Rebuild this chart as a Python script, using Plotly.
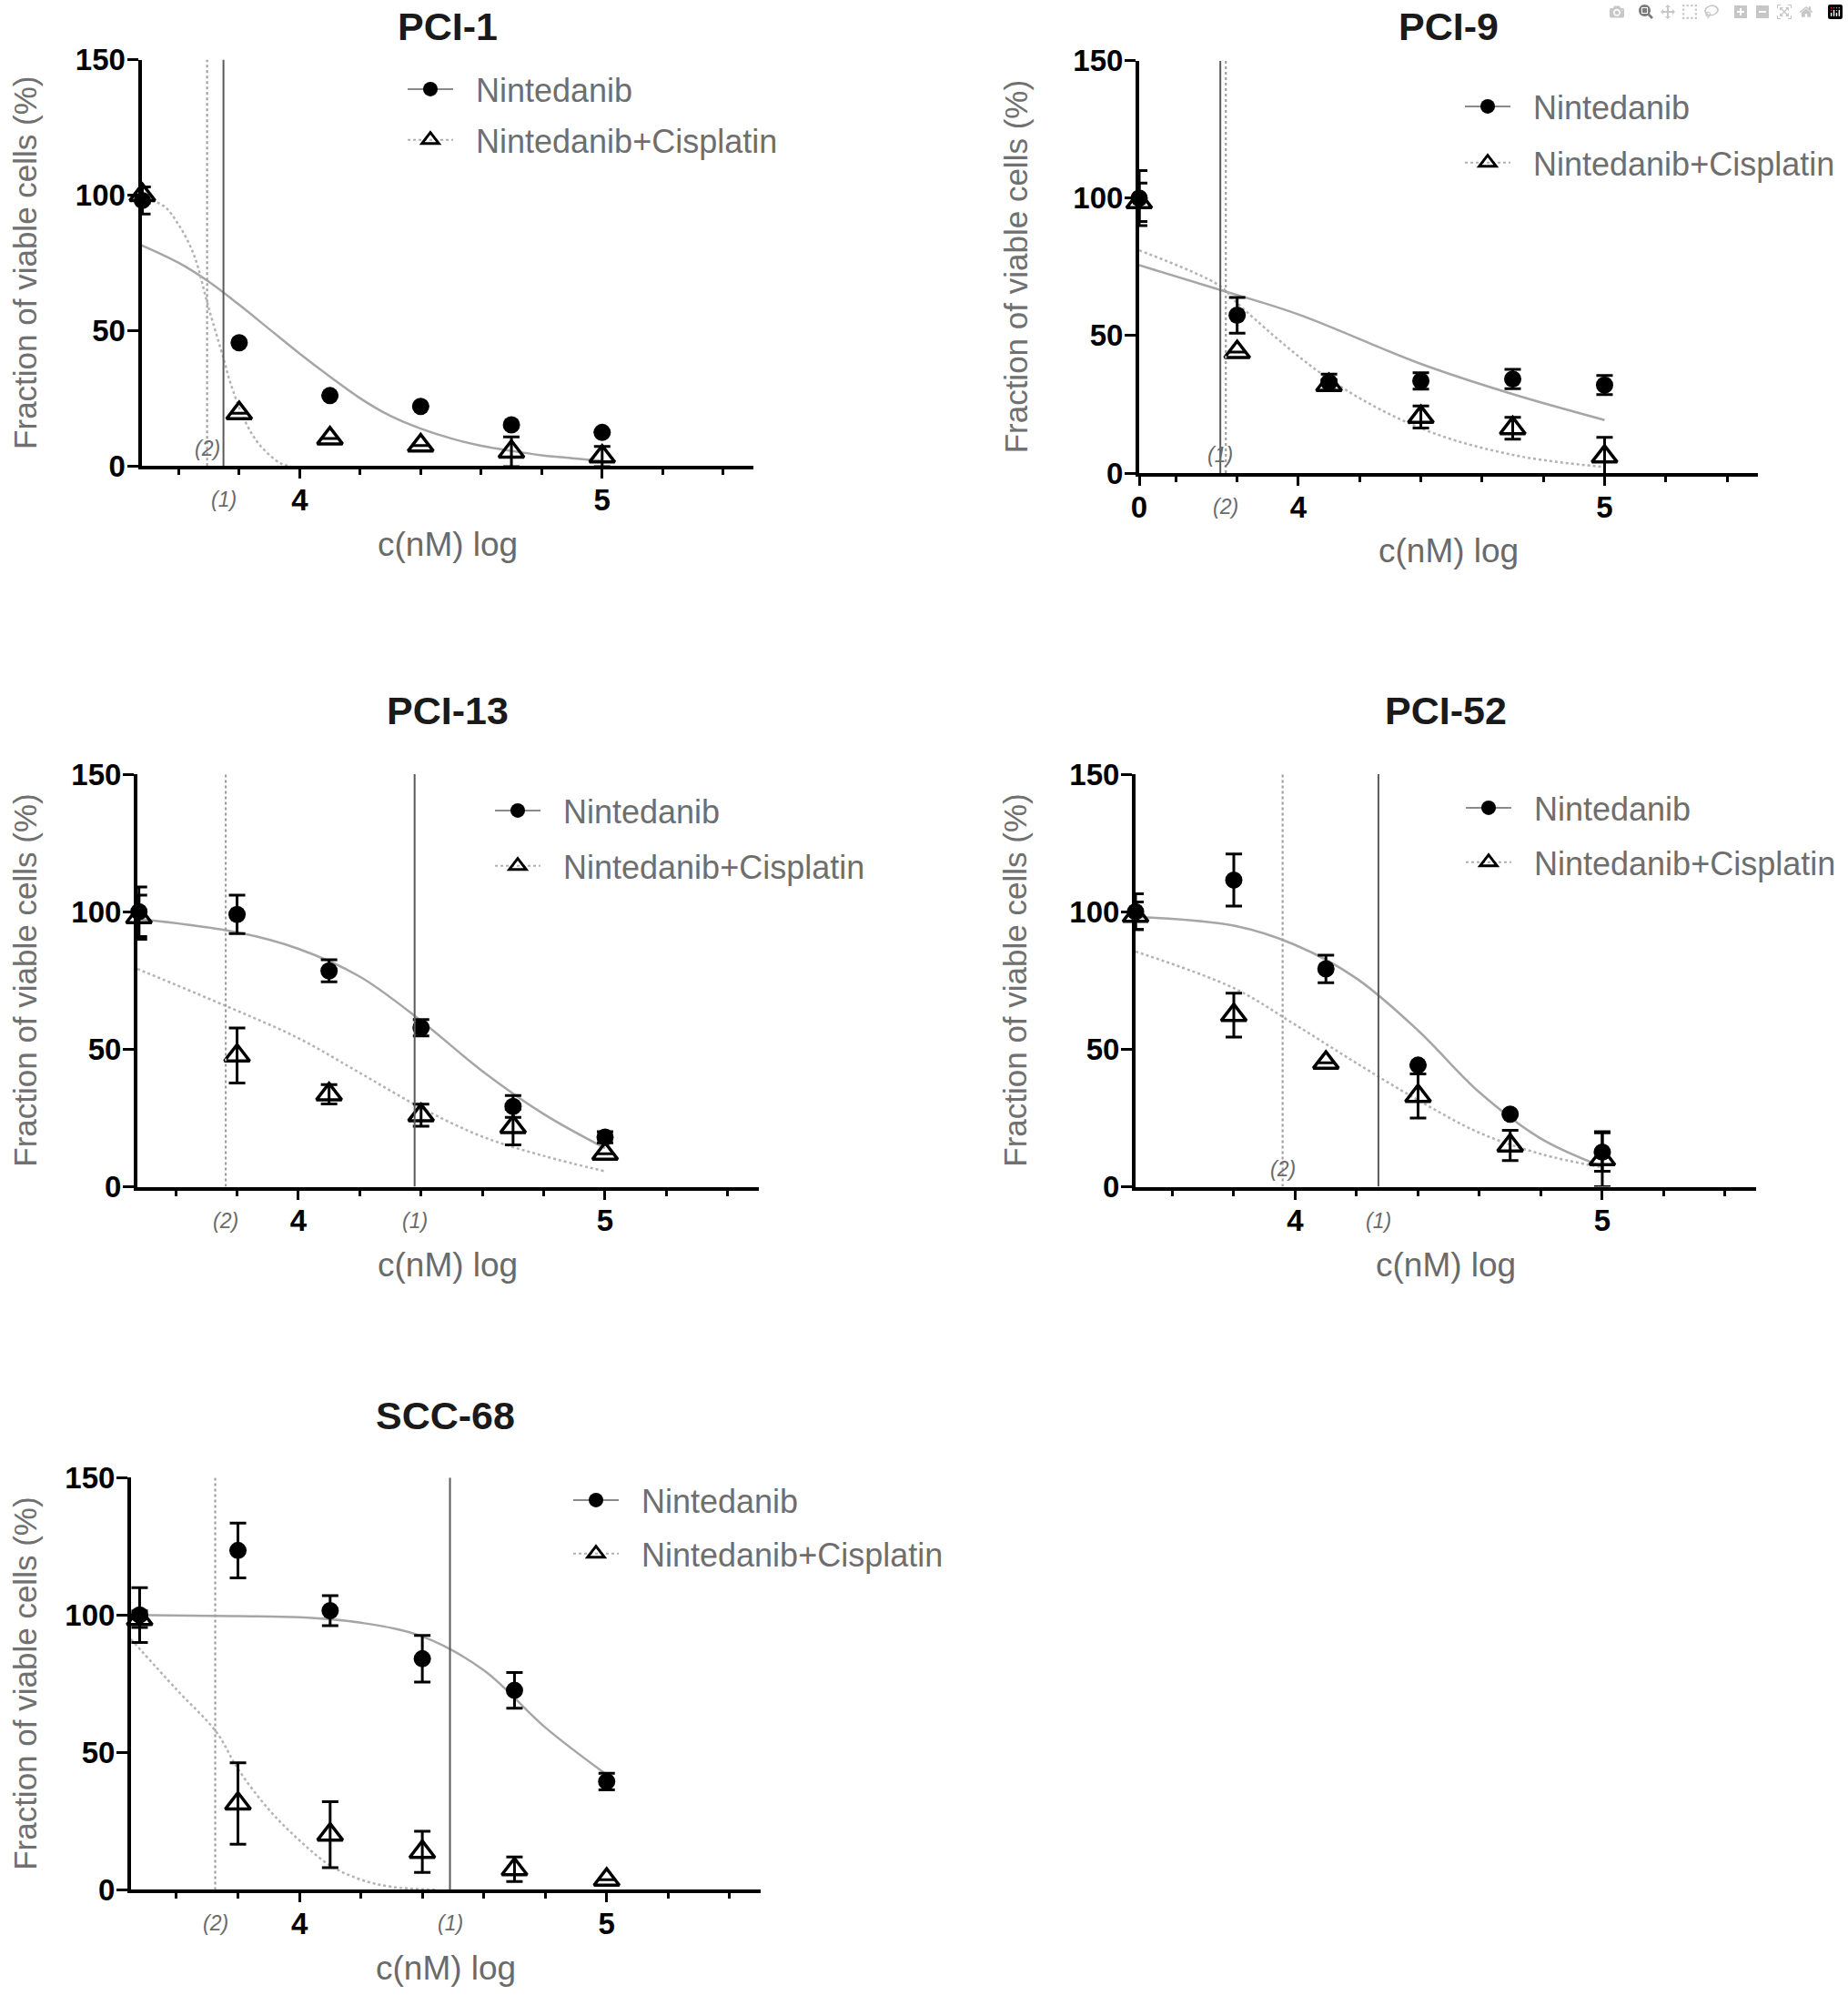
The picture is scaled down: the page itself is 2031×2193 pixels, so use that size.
import plotly.graph_objects as go

W, H = 2031, 2193
FONT = "Arial, Liberation Sans, sans-serif"

# log10 of the concentration (nM); first point = untreated control at the axis origin
DOSE = [3.48, 3.8, 4.1, 4.4, 4.7, 5.0]

# ---- PCI-1
PCI1_NIN = [98, 45.5, 26, 22, 15.2, 12.4]
PCI1_NIN_SD = [5, 0, 0, 0, 0, 0]
PCI1_CIS = [100, 19.5, 10.2, 7.6, 5.3, 3.5]
PCI1_CIS_SD = [3, 0, 0, 0, 5.5, 3.7]
PCI1_FIT_NIN_X = [3.477, 3.6, 3.7, 3.8, 3.9, 4.0, 4.1, 4.2, 4.3, 4.4, 4.5, 4.6, 4.7, 4.8, 4.9, 5.0]
PCI1_FIT_NIN_Y = [81.5, 75, 68, 59.5, 50.5, 41.5, 33, 25, 18.5, 13.8, 10.2, 7.5, 5.6, 4.0, 2.9, 2.0]
PCI1_FIT_CIS_X = [3.477, 3.55, 3.6, 3.65, 3.7, 3.75, 3.77, 3.82, 3.87, 3.94, 3.97]
PCI1_FIT_CIS_Y = [99, 96, 89, 78, 58, 39, 31, 16.4, 7.5, 0.8, 0]
PCI1_IC50 = [3.748, 3.694]  # (1) Nintedanib, (2) Nintedanib+Cisplatin

# ---- PCI-9
PCI9_NIN = [100, 57.4, 33, 33.5, 34.2, 32]
PCI9_NIN_SD = [10, 6.5, 3, 3, 3.5, 3.5]
PCI9_CIS = [98.5, 44, 32, 20.4, 16.3, 6]
PCI9_CIS_SD = [7, 0, 2, 4, 4, 7]
PCI9_FIT_NIN_X = [3.48, 3.745, 4.0, 4.4, 4.7, 5.0]
PCI9_FIT_NIN_Y = [75.6, 66.6, 57.7, 39.7, 28.7, 19.3]
PCI9_FIT_CIS_X = [3.48, 3.745, 3.8, 4.1, 4.4, 4.7, 5.0]
PCI9_FIT_CIS_Y = [81, 68, 61.8, 34.2, 16.3, 6.6, 2.2]
PCI9_IC50 = [3.745, 3.763]

# ---- PCI-13
PCI13_NIN = [100, 99, 78.5, 57.8, 29.2, 18]
PCI13_NIN_SD = [9, 7, 4, 3, 4, 2]
PCI13_CIS = [98, 47.7, 33.6, 26, 21.7, 12]
PCI13_CIS_SD = [8, 10, 3.5, 4, 6.5, 0]
PCI13_FIT_NIN_X = [3.475, 3.8, 4.0, 4.2, 4.4, 4.6, 4.8, 5.0]
PCI13_FIT_NIN_Y = [97.4, 92.5, 86.5, 76.4, 60.3, 42, 26.4, 14]
PCI13_FIT_CIS_X = [3.475, 3.76, 4.0, 4.2, 4.4, 4.6, 4.8, 5.0]
PCI13_FIT_CIS_Y = [79.2, 65.9, 54, 41.4, 28.7, 18.2, 11.2, 5.6]
PCI13_IC50 = [4.379, 3.763]

# ---- PCI-52
PCI52_NIN = [100, 111.5, 79.2, 44.2, 26.4, 12.6]
PCI52_NIN_SD = [6.5, 9.5, 5, 0, 0, 7]
PCI52_CIS = [98.5, 62.4, 45.1, 33, 15, 10]
PCI52_CIS_SD = [5, 8, 0, 8, 5.5, 10]
PCI52_FIT_NIN_X = [3.48, 3.8, 4.0, 4.2, 4.4, 4.6, 4.8, 5.0]
PCI52_FIT_NIN_Y = [98.1, 94.9, 87.9, 75.7, 56.8, 34.3, 17.5, 7.3]
PCI52_FIT_CIS_X = [3.48, 3.8, 4.0, 4.2, 4.4, 4.6, 4.8, 5.0]
PCI52_FIT_CIS_Y = [85.5, 72.2, 58.9, 44.9, 31.5, 19.6, 11.9, 7]
PCI52_IC50 = [4.271, 3.959]

# ---- SCC-68
SCC68_NIN = [100, 123.5, 101.6, 84.1, 72.6, 39.4]
SCC68_NIN_SD = [10, 10, 5.5, 8.5, 6.5, 3]
SCC68_CIS = [98.5, 31.4, 20.1, 13.8, 7.5, 3.7]
SCC68_CIS_SD = [3, 14.8, 12, 7.5, 4.5, 0]
SCC68_FIT_NIN_X = [3.452, 3.8, 4.0, 4.2, 4.4, 4.6, 4.8, 5.0]
SCC68_FIT_NIN_Y = [100, 99.6, 99.2, 97.2, 92.2, 79.9, 59.1, 41.9]
SCC68_FIT_CIS_X = [3.452, 3.6, 3.73, 3.8, 3.9, 4.0, 4.1, 4.2, 4.3, 4.45]
SCC68_FIT_CIS_Y = [91.2, 72.9, 57.4, 44, 29.3, 18, 8.9, 3.7, 1.1, 0]
SCC68_IC50 = [4.49, 3.726]

Y_TICKS = [0, 50, 100, 150]

# placement of each panel in page pixels: plot box (left, right, top, bottom), axis origin,
# which IC50 label sits inside the plot, legend marker position, y title x, title y
panels = [
    dict(title="PCI-1", nin=PCI1_NIN, nin_sd=PCI1_NIN_SD, cis=PCI1_CIS, cis_sd=PCI1_CIS_SD,
         fnx=PCI1_FIT_NIN_X, fny=PCI1_FIT_NIN_Y, fcx=PCI1_FIT_CIS_X, fcy=PCI1_FIT_CIS_Y,
         ic50=PCI1_IC50, box=(155.5, 828, 65.5, 512.3), x0=3.477, inside=2,
         leg=(473, 99), gap=6, ytx=28, tty=29, zero=False),
    dict(title="PCI-9", nin=PCI9_NIN, nin_sd=PCI9_NIN_SD, cis=PCI9_CIS, cis_sd=PCI9_CIS_SD,
         fnx=PCI9_FIT_NIN_X, fny=PCI9_FIT_NIN_Y, fcx=PCI9_FIT_CIS_X, fcy=PCI9_FIT_CIS_Y,
         ic50=PCI9_IC50, box=(1252, 1931.7, 66.7, 520), x0=3.48, inside=1,
         leg=(1635, 118), gap=12, ytx=1116, tty=29, zero=True),
    dict(title="PCI-13", nin=PCI13_NIN, nin_sd=PCI13_NIN_SD, cis=PCI13_CIS, cis_sd=PCI13_CIS_SD,
         fnx=PCI13_FIT_NIN_X, fny=PCI13_FIT_NIN_Y, fcx=PCI13_FIT_CIS_X, fcy=PCI13_FIT_CIS_Y,
         ic50=PCI13_IC50, box=(151, 833.5, 851, 1304.5), x0=3.475, inside=0,
         leg=(569, 892), gap=11, ytx=28, tty=781, zero=False),
    dict(title="PCI-52", nin=PCI52_NIN, nin_sd=PCI52_NIN_SD, cis=PCI52_CIS, cis_sd=PCI52_CIS_SD,
         fnx=PCI52_FIT_NIN_X, fny=PCI52_FIT_NIN_Y, fcx=PCI52_FIT_CIS_X, fcy=PCI52_FIT_CIS_Y,
         ic50=PCI52_IC50, box=(1248, 1929.7, 851, 1304.5), x0=3.48, inside=2,
         leg=(1636, 889), gap=10, ytx=1116, tty=781, zero=False),
    dict(title="SCC-68", nin=SCC68_NIN, nin_sd=SCC68_NIN_SD, cis=SCC68_CIS, cis_sd=SCC68_CIS_SD,
         fnx=SCC68_FIT_NIN_X, fny=SCC68_FIT_NIN_Y, fcx=SCC68_FIT_CIS_X, fcy=SCC68_FIT_CIS_Y,
         ic50=SCC68_IC50, box=(144, 835.6, 1624.3, 2077.4), x0=3.452, inside=0,
         leg=(655, 1650), gap=9, ytx=28, tty=1556, zero=False),
]

fig = go.Figure()
annotations = []
shapes = []
layout = dict(width=W, height=H, margin=dict(l=0, r=0, t=0, b=0, autoexpand=False),
              plot_bgcolor="white", paper_bgcolor="white",
              font=dict(family=FONT), showlegend=True)


def note(x, y, text, size, color, **kw):
    d = dict(x=x, y=y, xref="paper", yref="paper", text=text, showarrow=False,
             xanchor="center", yanchor="middle", font=dict(size=size, color=color, family=FONT))
    d.update(kw)
    return d


PAD = "\u00a0\u00a0"

for i, p in enumerate(panels, start=1):
    sfx = "" if i == 1 else str(i)
    xa, ya = "x" + sfx, "y" + sfx
    lg = "legend" + sfx
    left, right, top, bottom = p["box"]

    # fitted curves
    fig.add_trace(go.Scatter(x=p["fnx"], y=p["fny"], mode="lines", xaxis=xa, yaxis=ya,
                             line=dict(color="#a6a6a6", width=2.5, shape="spline"),
                             showlegend=False, hoverinfo="skip"))
    fig.add_trace(go.Scatter(x=p["fcx"], y=p["fcy"], mode="lines", xaxis=xa, yaxis=ya,
                             line=dict(color="#b3b3b3", width=2.5, dash="dot", shape="spline"),
                             showlegend=False, hoverinfo="skip"))

    # IC50 lines: (1) solid, (2) dotted
    for k, xv in enumerate(p["ic50"]):
        shapes.append(dict(type="line", xref=xa, yref=ya, x0=xv, x1=xv, y0=0, y1=150,
                           line=dict(color="#5a5a5a" if k == 0 else "#a0a0a0",
                                     width=2 if k == 0 else 2.2,
                                     dash="solid" if k == 0 else "dot")))
        inside = p["inside"] == k + 1
        annotations.append(dict(x=xv, y=6.5 if inside else 0, xref=xa, yref=ya,
                                xanchor="center", yanchor="middle",
                                yshift=0 if inside else -37, text=f"({k + 1})", showarrow=False,
                                font=dict(size=23, color="#6a6a6a", style="italic", family=FONT)))

    # data points
    fig.add_trace(go.Scatter(x=DOSE, y=p["cis"], mode="markers", xaxis=xa, yaxis=ya,
                             error_y=dict(type="data", array=p["cis_sd"], color="black",
                                          thickness=3, width=9),
                             marker=dict(symbol="triangle-up-open", size=24, color="black",
                                         line=dict(width=3.5)),
                             cliponaxis=False, showlegend=False))
    fig.add_trace(go.Scatter(x=DOSE, y=p["nin"], mode="markers", xaxis=xa, yaxis=ya,
                             error_y=dict(type="data", array=p["nin_sd"], color="black",
                                          thickness=3, width=9),
                             marker=dict(symbol="circle", size=19, color="black"),
                             cliponaxis=False, showlegend=False))

    # legend entries
    fig.add_trace(go.Scatter(x=[None], y=[None], mode="lines+markers", name=PAD + "Nintedanib",
                             xaxis=xa, yaxis=ya, legend=lg, legendgroup=f"{i}a",
                             line=dict(color="#8a8a8a", width=2),
                             marker=dict(symbol="circle", size=17, color="black")))
    fig.add_trace(go.Scatter(x=[None], y=[None], mode="lines+markers",
                             name=PAD + "Nintedanib+Cisplatin",
                             xaxis=xa, yaxis=ya, legend=lg, legendgroup=f"{i}b",
                             line=dict(color="#b0b0b0", width=2, dash="dot"),
                             marker=dict(symbol="triangle-up-open", size=17, color="black",
                                         line=dict(width=3))))

    mx, my = p["leg"]
    layout[lg] = dict(x=(mx - 30) / W, y=1 - (my - 31) / H, xanchor="left", yanchor="top",
                      font=dict(size=36, color="#6e6e6e", family=FONT),
                      bgcolor="rgba(0,0,0,0)", traceorder="grouped",
                      tracegroupgap=p["gap"], itemwidth=50)

    tickvals = [4, 5]
    ticktext = ["4", "5"]
    if p["zero"]:
        tickvals = [p["x0"]] + tickvals
        ticktext = ["0"] + ticktext
    layout["xaxis" + sfx] = dict(
        domain=[left / W, right / W], range=[p["x0"], 5.5], anchor=ya,
        showline=True, linecolor="black", linewidth=4, showgrid=False, zeroline=False,
        ticks="outside", ticklen=10, tickwidth=3, tickcolor="black",
        tickmode="array", tickvals=tickvals, ticktext=ticktext, ticklabelstandoff=-5,
        tickfont=dict(size=33, color="black", family=FONT, weight="bold"),
        minor=dict(tickmode="linear", tick0=3.6, dtick=0.2, ticks="outside", ticklen=6,
                   tickwidth=3, tickcolor="black", showgrid=False),
    )
    layout["yaxis" + sfx] = dict(
        domain=[1 - bottom / H, 1 - top / H], range=[0, 150], anchor=xa,
        showline=True, linecolor="black", linewidth=4, showgrid=False, zeroline=False,
        ticks="outside", ticklen=12, tickwidth=3, tickcolor="black",
        tickmode="array", tickvals=Y_TICKS, ticklabelstandoff=-5,
        tickfont=dict(size=33, color="black", family=FONT, weight="bold"),
    )

    cx = (left + right) / 2
    annotations.append(note(cx / W, 1 - p["tty"] / H, "<b>" + p["title"] + "</b>", 43, "#1a1a1a"))
    annotations.append(note(cx / W, 1 - (bottom + 86) / H, "c(nM) log", 37, "#6a6a6a"))
    annotations.append(note(p["ytx"] / W, 1 - (top + bottom) / 2 / H,
                            "Fraction of viable cells (%)", 35, "#707070", textangle=-90))

layout["annotations"] = annotations
layout["shapes"] = shapes
fig.update_layout(**layout)

fig.write_html("out.html", post_script="document.body.style.margin='0';")
